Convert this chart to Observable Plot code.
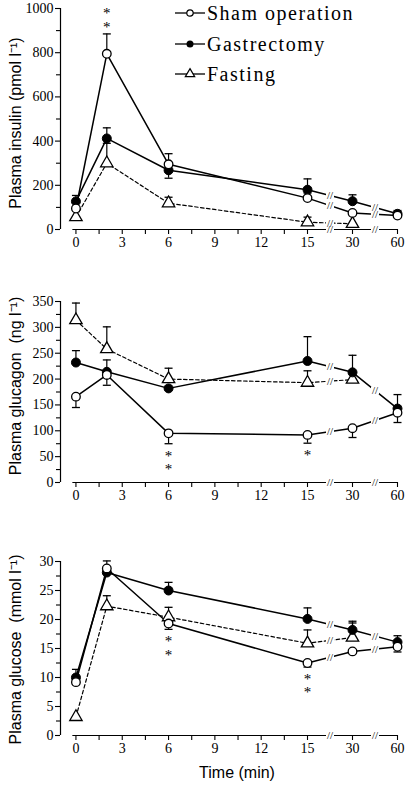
<!DOCTYPE html>
<html>
<head>
<meta charset="utf-8">
<script src="https://cdn.jsdelivr.net/npm/d3@7"></script>
<script src="https://cdn.jsdelivr.net/npm/@observablehq/plot@0.6"></script>
<style>
html, body { margin: 0; padding: 0; background: #fff; }
#wrap { position: relative; width: 409px; height: 788px; overflow: hidden; background: #fff; }
#wrap > svg { position: absolute; left: 0; }
svg [aria-label="x-axis tick label"], svg [aria-label="y-axis tick label"] {
  font-family: "Liberation Serif", "DejaVu Serif", serif; font-size: 14px;
}
</style>
</head>
<body>
<div id="wrap"></div>
<script>
// ---------- data ----------
const times = [0, 2, 6, 15, 30, 60];
const seriesNames = ["Sham operation", "Gastrectomy", "Fasting"];
const xTickValues = [0, 3, 6, 9, 12, 15, 30, 60];
const xMinorTicks = [1.5, 4.5, 7.5, 10.5, 13.5];
const xLabel = "Time (min)";

// Plasma insulin (pmol l-1)
const insulinSham    = [95, 795, 295, 142, 75, 63];
const insulinShamErr = [null, 885, 343, 165, null, 86];
const insulinGast    = [127, 412, 268, 180, 128, 71];
const insulinGastErr = [154, 460, 232, 229, 157, null];
const insulinFast    = [56, 300, 119, 33, 26, null];
const insulinFastErr = [null, 390, 146, 56, null, null];
const insulinTicks = [0, 200, 400, 600, 800, 1000];
const insulinMinor = [100, 300, 500, 700, 900];
const insulinLabel = "Plasma insulin (pmol l\u207B\u00B9)";
const insulinStars = [{t: 2, at: 885, n: 2, dir: -1}];

// Plasma glucagon (ng l-1)
const glucagonSham    = [166, 208, 95, 92, 105, 135];
const glucagonShamErr = [145, 188, 75, 76, 87, 116];
const glucagonGast    = [232, 214, 182, 235, 213, 143];
const glucagonGastErr = [255, 237, null, 282, 246, 170];
const glucagonFast    = [314, 258, 200, 193, 199, null];
const glucagonFastErr = [347, 301, 221, 216, null, null];
const glucagonTicks = [0, 50, 100, 150, 200, 250, 300, 350];
const glucagonMinor = [25, 75, 125, 175, 225, 275, 325];
const glucagonLabel = "Plasma glucagon\u00A0 (ng l\u207B\u00B9)";
const glucagonStars = [{t: 6, at: 75, n: 2, dir: 1}, {t: 15, at: 76, n: 1, dir: 1}];

// Plasma glucose (mmol l-1)
const glucoseSham    = [9.2, 28.8, 19.3, 12.5, 14.5, 15.3];
const glucoseShamErr = [null, 30.1, 18.3, 11.8, null, 14.4];
const glucoseGast    = [10.0, 28.1, 25.0, 20.1, 18.2, 16.1];
const glucoseGastErr = [11.4, null, 26.4, 22.0, 19.7, 17.2];
const glucoseFast    = [3.2, 22.3, 20.4, 15.9, 16.9, null];
const glucoseFastErr = [null, 24.1, 22.1, 18.2, 19.4, null];
const glucoseTicks = [0, 5, 10, 15, 20, 25, 30];
const glucoseMinor = [2.5, 7.5, 12.5, 17.5, 22.5, 27.5];
const glucoseLabel = "Plasma glucose\u00A0 (mmol l\u207B\u00B9)";
const glucoseStars = [{t: 6, at: 18.3, n: 2, dir: 1}, {t: 15, at: 11.8, n: 2, dir: 1}];

// ---------- drawing ----------
const W = 409;
const serif = "Liberation Serif, DejaVu Serif, serif";
const sans = "Liberation Sans, Arial, sans-serif";
const capSymbol = {draw(ctx) { ctx.moveTo(-4, 0); ctx.lineTo(4, 0); }};
const knockSymbol = {draw(ctx) { ctx.rect(-4, -4, 8, 8); }};

function panel(o) {
  const vals = [o.sham, o.gast, o.fast];
  const errs = [o.shamErr, o.gastErr, o.fastErr];
  const rows = [];
  vals.forEach((arr, i) => times.forEach((t, j) => {
    if (arr[j] != null) rows.push({s: i, t, v: arr[j], e: errs[i][j]});
  }));
  const breaks = [{t: 22.5, v: 0}, {t: 45, v: 0}];
  vals.forEach(arr => {
    const i15 = times.indexOf(15), i30 = times.indexOf(30), i60 = times.indexOf(60);
    if (arr[i15] != null && arr[i30] != null) breaks.push({t: 22.5, v: (arr[i15] + arr[i30]) / 2});
    if (arr[i30] != null && arr[i60] != null) breaks.push({t: 45, v: (arr[i30] + arr[i60]) / 2});
  });
  const starRows = o.stars.map(s => ({...s, label: Array(s.n).fill("*").join("\n")}));
  const ymax = o.ticks[o.ticks.length - 1];
  const H = o.height, mt = o.mt, mb = o.mb;

  const marks = [
    Plot.ruleX([-1], {y1: 0, y2: ymax, stroke: "black", strokeWidth: 1.2}),
    Plot.ruleY([0], {x1: -0.2, x2: 60, stroke: "black", strokeWidth: 1.2}),
    Plot.axisY(o.ticks, {tickSize: 5, tickPadding: 2, label: null, tickFormat: d => String(d), stroke: "black", strokeWidth: 1.1}),
    Plot.axisY(o.minor, {tickSize: 4, tickFormat: () => "", label: null, stroke: "black", strokeWidth: 1.1}),
    Plot.axisX(xTickValues, {tickSize: 5, tickPadding: 3, label: null, tickFormat: d => String(d), stroke: "black", strokeWidth: 1.1}),
    Plot.axisX(xMinorTicks, {tickSize: 5, tickFormat: () => "", label: null, stroke: "black", strokeWidth: 1.1}),
    Plot.line(rows.filter(d => d.s === 2), {x: "t", y: "v", stroke: "black", strokeWidth: 1.2, strokeDasharray: "3.5,2.5"}),
    Plot.line(rows.filter(d => d.s === 1), {x: "t", y: "v", stroke: "black", strokeWidth: 1.5}),
    Plot.line(rows.filter(d => d.s === 0), {x: "t", y: "v", stroke: "black", strokeWidth: 1.5}),
    // axis / line break marks: white gap, then "//"
    Plot.dot(breaks, {x: "t", y: "v", symbol: knockSymbol, r: 4, fill: "white", stroke: null}),
    Plot.text(breaks, {x: "t", y: "v", text: () => "//", fontFamily: serif, fontSize: 11, fill: "black"}),
    // error bars
    Plot.ruleX(rows.filter(d => d.e != null), {x: "t", y1: "v", y2: "e", stroke: "black", strokeWidth: 1.2}),
    Plot.dot(rows.filter(d => d.e != null), {x: "t", y: "e", symbol: capSymbol, stroke: "black", strokeWidth: 1.3, r: 4}),
    // markers
    Plot.dot(rows.filter(d => d.s === 2), {x: "t", y: "v", symbol: "triangle", r: 4.6, fill: "white", stroke: "black", strokeWidth: 1.3}),
    Plot.dot(rows.filter(d => d.s === 1), {x: "t", y: "v", r: 4.5, fill: "black", stroke: "black", strokeWidth: 1}),
    Plot.dot(rows.filter(d => d.s === 0), {x: "t", y: "v", r: 4.3, fill: "white", stroke: "black", strokeWidth: 1.3}),
    // significance asterisks
    Plot.text(starRows.filter(d => d.dir < 0), {x: "t", y: "at", text: "label", lineAnchor: "bottom", lineHeight: 0.9, dy: -2, fontFamily: serif, fontSize: 15, fill: "black"}),
    Plot.text(starRows.filter(d => d.dir > 0), {x: "t", y: "at", text: "label", lineAnchor: "top", lineHeight: 0.9, dy: 7.3, fontFamily: serif, fontSize: 15, fill: "black"}),
    // y-axis title
    Plot.text([o.label], {frameAnchor: "left", text: d => d, textAnchor: "middle", rotate: -90, dx: -45, dy: o.labelDy, fontFamily: sans, fontSize: 16, fill: "black"})
  ];
  if (o.xLabel) marks.push(Plot.text([o.xLabel], {frameAnchor: "bottom", text: d => d, textAnchor: "middle", dx: 8, dy: 42, fontFamily: sans, fontSize: 16, fill: "black"}));

  const svg = Plot.plot({
    width: W, height: H,
    marginLeft: 60, marginRight: 12, marginTop: mt, marginBottom: mb,
    style: {background: "transparent", color: "black"},
    x: {type: "linear", domain: [-1, 15, 30, 60], range: [60, 307, 352, 397]},
    y: {type: "linear", domain: [0, ymax], range: [H - mb, mt]},
    marks
  });
  svg.style.top = o.top + "px";
  document.getElementById("wrap").appendChild(svg);
}

panel({sham: insulinSham, shamErr: insulinShamErr, gast: insulinGast, gastErr: insulinGastErr,
       fast: insulinFast, fastErr: insulinFastErr, ticks: insulinTicks, minor: insulinMinor,
       label: insulinLabel, stars: insulinStars, top: 0, height: 258, mt: 8, mb: 29, labelDy: 4});
panel({sham: glucagonSham, shamErr: glucagonShamErr, gast: glucagonGast, gastErr: glucagonGastErr,
       fast: glucagonFast, fastErr: glucagonFastErr, ticks: glucagonTicks, minor: glucagonMinor,
       label: glucagonLabel, stars: glucagonStars, top: 260, height: 258, mt: 41, mb: 36, labelDy: -6});
panel({sham: glucoseSham, shamErr: glucoseShamErr, gast: glucoseGast, gastErr: glucoseGastErr,
       fast: glucoseFast, fastErr: glucoseFastErr, ticks: glucoseTicks, minor: glucoseMinor,
       label: glucoseLabel, stars: glucoseStars, top: 520, height: 268, mt: 41, mb: 53, labelDy: 1,
       xLabel: xLabel});

// ---------- legend ----------
const leg = d3.select("#wrap").append("svg")
  .attr("width", W).attr("height", 90)
  .style("top", "0px").style("left", "0px");
const legY = [13, 44, 74];
seriesNames.forEach((name, i) => {
  const g = leg.append("g").attr("transform", `translate(0,${legY[i]})`);
  g.append("line").attr("x1", 175).attr("x2", 205).attr("y1", 0).attr("y2", 0)
    .attr("stroke", "black").attr("stroke-width", 1.3);
  if (i === 0) g.append("circle").attr("cx", 190).attr("cy", 0).attr("r", 3.2).attr("fill", "white").attr("stroke", "black").attr("stroke-width", 1.2);
  if (i === 1) g.append("circle").attr("cx", 190).attr("cy", 0).attr("r", 3.5).attr("fill", "black");
  if (i === 2) g.append("path").attr("transform", "translate(190,0)").attr("d", d3.symbol(d3.symbolTriangle, 38)())
    .attr("fill", "white").attr("stroke", "black").attr("stroke-width", 1.2);
  g.append("text").attr("x", 207).attr("y", 6.5)
    .attr("font-family", serif).attr("font-size", 20).attr("letter-spacing", "1.5px")
    .attr("fill", "black").text(name);
});
</script>
</body>
</html>
